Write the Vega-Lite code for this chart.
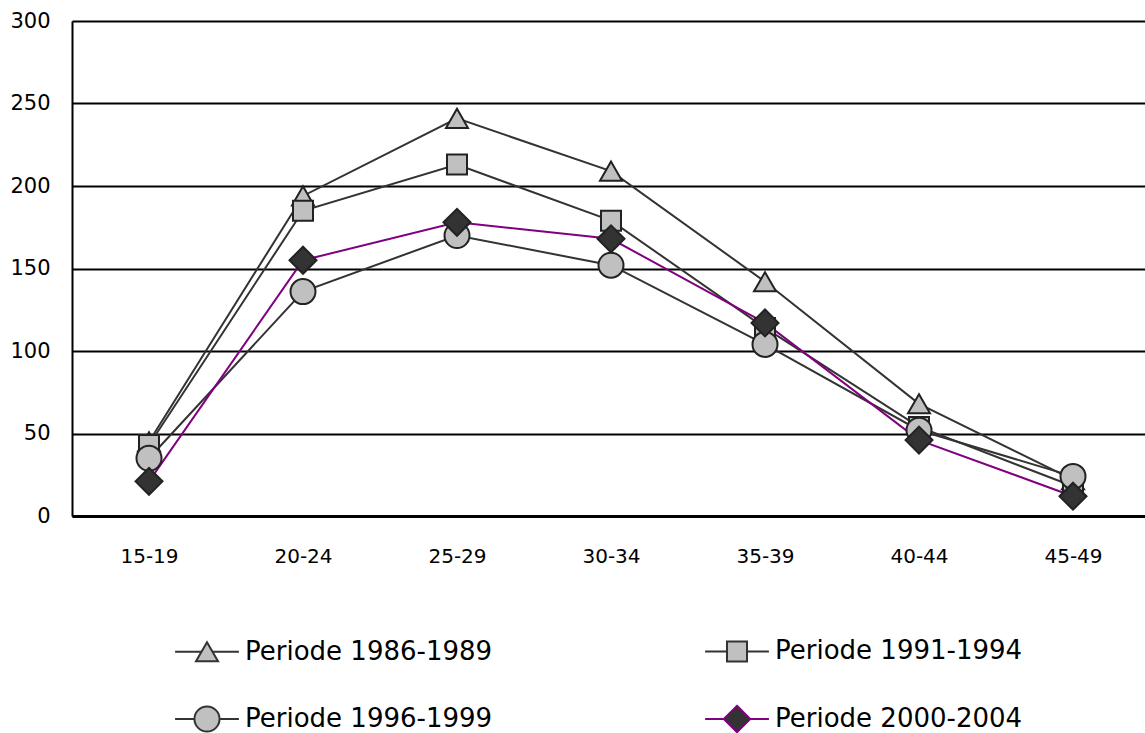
{
  "$schema": "https://vega.github.io/schema/vega-lite/v6.json",
  "autosize": "none",
  "padding": {"left": 72, "top": 21, "right": 0, "bottom": 217},
  "width": 1078,
  "height": 495,
  "background": "white",
  "config": {
    "view": {"stroke": null},
    "font": "DejaVu Sans"
  },
  "data": {
    "values": [
      {"age": "15-19", "period": "Periode 1986-1989", "rate": 45},
      {"age": "20-24", "period": "Periode 1986-1989", "rate": 194},
      {"age": "25-29", "period": "Periode 1986-1989", "rate": 241},
      {"age": "30-34", "period": "Periode 1986-1989", "rate": 209},
      {"age": "35-39", "period": "Periode 1986-1989", "rate": 142},
      {"age": "40-44", "period": "Periode 1986-1989", "rate": 68},
      {"age": "45-49", "period": "Periode 1986-1989", "rate": 22},
      {"age": "15-19", "period": "Periode 1991-1994", "rate": 43},
      {"age": "20-24", "period": "Periode 1991-1994", "rate": 185},
      {"age": "25-29", "period": "Periode 1991-1994", "rate": 213},
      {"age": "30-34", "period": "Periode 1991-1994", "rate": 179},
      {"age": "35-39", "period": "Periode 1991-1994", "rate": 114},
      {"age": "40-44", "period": "Periode 1991-1994", "rate": 54},
      {"age": "45-49", "period": "Periode 1991-1994", "rate": 18},
      {"age": "15-19", "period": "Periode 1996-1999", "rate": 35},
      {"age": "20-24", "period": "Periode 1996-1999", "rate": 136},
      {"age": "25-29", "period": "Periode 1996-1999", "rate": 170},
      {"age": "30-34", "period": "Periode 1996-1999", "rate": 152},
      {"age": "35-39", "period": "Periode 1996-1999", "rate": 104},
      {"age": "40-44", "period": "Periode 1996-1999", "rate": 52},
      {"age": "45-49", "period": "Periode 1996-1999", "rate": 24},
      {"age": "15-19", "period": "Periode 2000-2004", "rate": 21},
      {"age": "20-24", "period": "Periode 2000-2004", "rate": 155},
      {"age": "25-29", "period": "Periode 2000-2004", "rate": 178},
      {"age": "30-34", "period": "Periode 2000-2004", "rate": 168},
      {"age": "35-39", "period": "Periode 2000-2004", "rate": 117},
      {"age": "40-44", "period": "Periode 2000-2004", "rate": 46},
      {"age": "45-49", "period": "Periode 2000-2004", "rate": 12}
    ]
  },
  "encoding": {
    "x": {
      "field": "age",
      "type": "ordinal",
      "sort": null,
      "scale": {"type": "point", "padding": 0.5},
      "axis": {
        "title": null,
        "labelAngle": 0,
        "labelFontSize": 20,
        "labelColor": "#000000",
        "labelPadding": 30,
        "ticks": false,
        "domain": true,
        "domainColor": "#000000",
        "domainWidth": 3,
        "grid": false
      }
    },
    "y": {
      "field": "rate",
      "type": "quantitative",
      "scale": {"domain": [0, 300], "nice": false},
      "axis": {
        "title": null,
        "values": [0, 50, 100, 150, 200, 250, 300],
        "labelFontSize": 21,
        "labelColor": "#000000",
        "labelPadding": 22,
        "ticks": false,
        "domain": true,
        "domainColor": "#000000",
        "domainWidth": 2,
        "grid": true,
        "gridColor": "#000000",
        "gridWidth": 2,
        "gridOpacity": 1
      }
    }
  },
  "layer": [
    {
      "mark": {"type": "line", "strokeWidth": 2},
      "encoding": {
        "detail": {"field": "period", "type": "nominal"},
        "color": {
          "condition": {"test": "datum.period === 'Periode 2000-2004'", "value": "#800080"},
          "value": "#333333"
        }
      }
    },
    {
      "mark": {"type": "point", "filled": true, "stroke": "#222222", "strokeWidth": 2, "opacity": 1},
      "encoding": {
        "fill": {
          "condition": {"test": "datum.period === 'Periode 2000-2004'", "value": "#333333"},
          "value": "#c0c0c0"
        },
        "size": {
          "condition": [
            {"test": "datum.period === 'Periode 1986-1989'", "value": 484},
            {"test": "datum.period === 'Periode 1991-1994'", "value": 400},
            {"test": "datum.period === 'Periode 1996-1999'", "value": 625}
          ],
          "value": 729
        },
        "shape": {
          "condition": [
            {"test": "datum.period === 'Periode 1986-1989'", "value": "triangle-up"},
            {"test": "datum.period === 'Periode 1991-1994'", "value": "square"},
            {"test": "datum.period === 'Periode 1996-1999'", "value": "circle"}
          ],
          "value": "diamond"
        }
      }
    },
    {
      "transform": [{"filter": "false"}],
      "mark": {"type": "point", "filled": true, "strokeWidth": 2, "opacity": 1},
      "encoding": {
        "shape": {
          "field": "period",
          "type": "nominal",
          "scale": {
            "domain": ["Periode 1986-1989", "Periode 1991-1994", "Periode 1996-1999", "Periode 2000-2004"],
            "range": [
              "M-2.9,0H-0.5M0.5,0H2.9M0,-0.87L1,0.87L-1,0.87Z",
              "M-2.9,0H-0.91M0.91,0H2.9M-0.91,-0.91H0.91V0.91H-0.91Z",
              "M-2.9,0H-1.14M1.14,0H2.9M-1.14,0A1.14,1.14 0 1,0 1.14,0A1.14,1.14 0 1,0 -1.14,0Z",
              "M-2.9,0H-1.2M1.2,0H2.9M0,-1.2L1.2,0L0,1.2L-1.2,0Z"
            ]
          },
          "legend": {
            "title": null,
            "orient": "none",
            "direction": "horizontal",
            "legendX": 122,
            "legendY": 617,
            "columns": 2,
            "columnPadding": 208,
            "rowPadding": 35,
            "symbolSize": 484,
            "symbolStrokeWidth": 2,
            "symbolOpacity": 1,
            "labelFontSize": 26,
            "labelColor": "#000000",
            "labelOffset": 25,
            "labelLimit": 400
          }
        },
        "fill": {
          "field": "period",
          "type": "nominal",
          "scale": {
            "domain": ["Periode 1986-1989", "Periode 1991-1994", "Periode 1996-1999", "Periode 2000-2004"],
            "range": ["#c0c0c0", "#c0c0c0", "#c0c0c0", "#333333"]
          }
        },
        "stroke": {
          "field": "period",
          "type": "nominal",
          "scale": {
            "domain": ["Periode 1986-1989", "Periode 1991-1994", "Periode 1996-1999", "Periode 2000-2004"],
            "range": ["#333333", "#333333", "#333333", "#800080"]
          }
        }
      }
    }
  ]
}
